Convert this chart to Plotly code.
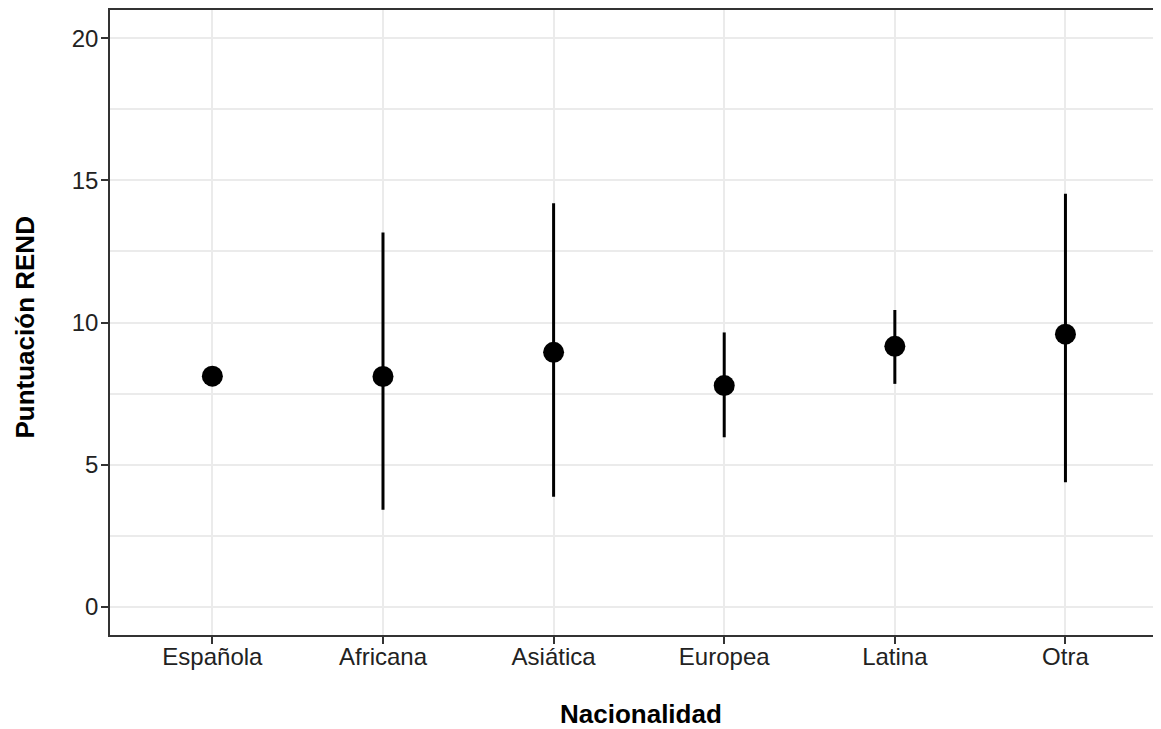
import plotly.graph_objects as go

categorias = ["Española", "Africana", "Asiática", "Europea", "Latina", "Otra"]
media = [8.11, 8.10, 8.95, 7.78, 9.16, 9.59]
inferior = [None, 3.41, 3.87, 5.96, 7.84, 4.38]
superior = [None, 13.17, 14.20, 9.65, 10.44, 14.53]

err_plus = [(s - m) if s is not None else None for s, m in zip(superior, media)]
err_minus = [(m - i) if i is not None else None for i, m in zip(inferior, media)]

fig = go.Figure()
fig.add_trace(go.Scatter(
    x=categorias, y=media, mode="markers",
    marker=dict(size=21, color="black", line=dict(width=0)),
    error_y=dict(type="data", symmetric=False, array=err_plus, arrayminus=err_minus,
                 width=0, thickness=3, color="black"),
    showlegend=False,
))

grid = "#ebebeb"
axis_col = "#333333"
tick_font = dict(family="Liberation Sans, Arial, sans-serif", size=24, color="#222222")

fig.update_layout(
    width=1153, height=721,
    margin=dict(l=102, r=0, t=2, b=94),
    paper_bgcolor="white", plot_bgcolor="white",
    xaxis=dict(
        type="category", range=[-0.6, 5.56],
        showgrid=True, gridcolor=grid, gridwidth=2,
        showline=True, linecolor=axis_col, linewidth=1.5, mirror=True,
        ticks="outside", ticklen=7, tickwidth=1.5, tickcolor=axis_col,
        tickfont=tick_font, zeroline=False, ticklabelstandoff=-8,
    ),
    yaxis=dict(
        range=[-1, 21], tickvals=[0, 5, 10, 15, 20],
        showgrid=True, gridcolor=grid, gridwidth=2,
        minor=dict(dtick=2.5, tick0=0, showgrid=True, gridcolor=grid, gridwidth=2),
        showline=True, linecolor=axis_col, linewidth=1.5, mirror=False,
        ticks="outside", ticklen=7, tickwidth=1.5, tickcolor=axis_col,
        tickfont=tick_font, zeroline=False, ticklabelstandoff=-2,
    ),
    annotations=[
        dict(text="<b>Nacionalidad</b>", xref="paper", yref="paper",
             x=0.5055, y=-0.1264, xanchor="center", yanchor="middle", showarrow=False,
             font=dict(family="Liberation Sans, Arial, sans-serif", size=26, color="black")),
        dict(text="<b>Puntuación REND</b>", xref="paper", yref="paper",
             x=-0.0818, y=0.492, xanchor="center", yanchor="middle", showarrow=False,
             textangle=-90,
             font=dict(family="Liberation Sans, Arial, sans-serif", size=26, color="black")),
    ],
)

fig.write_html("out.html")
